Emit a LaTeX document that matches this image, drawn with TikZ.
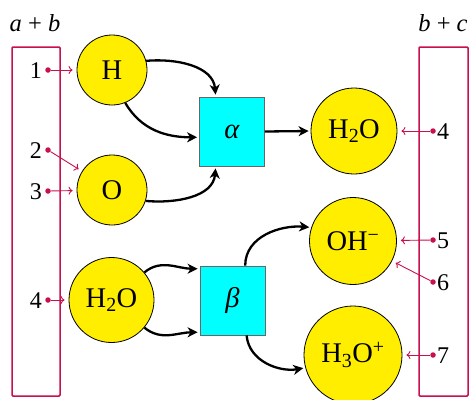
\documentclass[tikz,border=0pt]{standalone}
\usepackage{fontspec}
\setmainfont{Liberation Serif}
\usetikzlibrary{arrows.meta,calc}
\definecolor{crim}{RGB}{200,16,75}
\definecolor{ylw}{RGB}{255,238,0}
\definecolor{cyn}{RGB}{0,255,255}
\tikzset{
  species/.style={circle,draw=black,line width=0.8pt,fill=ylw,inner sep=0pt,font=\fontsize{28.5}{31}\selectfont},
  reaction/.style={rectangle,draw=black!60,line width=0.8pt,fill=cyn,inner sep=0pt,minimum width=65pt,minimum height=69pt,font=\fontsize{28.5}{31}\selectfont},
  flow/.style={line width=2.3pt,-{Stealth[length=10pt,width=10pt,inset=3pt]},shorten >=2pt},
  frame/.style={draw=crim,line width=1.5pt,rounded corners=1pt},
  pindot/.style={circle,fill=crim,inner sep=0pt,minimum size=5.5pt},
  pinarrow/.style={draw=crim,line width=0.9pt,-{To[length=4pt,width=8pt]},shorten >=4pt},
  numlbl/.style={inner sep=0pt,font=\fontsize{24}{27}\selectfont},
  toplbl/.style={inner sep=0pt,font=\fontsize{24.5}{28}\selectfont,anchor=base}
}
\begin{document}
\begin{tikzpicture}[x=1pt,y=-1pt]
\useasboundingbox (0,0) rectangle (470,399);
% frames
\draw[frame] (12,47) rectangle (60,396);
\draw[frame] (419,47) rectangle (468,396);
\node[toplbl] (lab) at (35,31) {\textit{a} + \textit{b}};
\node[toplbl] (lbc) at (443,31) {\textit{b} + \textit{c}};
% species
\node[species,minimum size=70pt] (H) at (112,70) {H};
\node[species,minimum size=70pt] (O) at (112,190) {O};
\node[species,minimum size=85pt] (W1) at (111.5,300) {H\textsubscript{2}O};
\node[species,minimum size=86pt] (W2) at (354,131) {H\textsubscript{2}O};
\node[species,minimum size=87pt] (OH) at (353,241) {OH\textsuperscript{−}};
\node[species,minimum size=98pt] (H3O) at (353,355) {H\textsubscript{3}O\textsuperscript{+}};
% reactions
\node[reaction] (alpha) at (232,131.5) {\textit{α}};
\node[reaction] (beta) at (232.5,300.5) {\textit{β}};
% flows
\draw[flow] (H.15) to[out=5,in=95] (alpha.115);
\draw[flow] (H.-68) to[out=-60,in=180] (alpha.190);
\draw[flow] (O.-18) to[out=-5,in=-95] (alpha.-115);
\draw[flow] (alpha.east) -- (W2.west);
\draw[flow] (W1.40) to[out=40,in=180] (beta.136);
\draw[flow] (W1.-40) to[out=-40,in=180] (beta.224);
\draw[flow] (beta.70) to[out=90,in=175] (OH.162);
\draw[flow] (beta.-68) to[out=-85,in=190] (H3O.195);
% left pins
\node[pindot] (p1) at (48,70) {};
\node[pindot] (p2) at (48,150) {};
\node[pindot] (p3) at (48,191) {};
\node[pindot] (p4) at (48,300) {};
\node[numlbl,anchor=east] at (42,71) {1};
\node[numlbl,anchor=east] at (42,151) {2};
\node[numlbl,anchor=east] at (42,192) {3};
\node[numlbl,anchor=east] at (42,301) {4};
\draw[pinarrow] (p1) -- (H);
\draw[pinarrow] (p2) -- (O);
\draw[pinarrow] (p3) -- (O);
\draw[pinarrow] (p4) -- (W1);
% right pins
\node[pindot] (q4) at (433,131) {};
\node[pindot] (q5) at (433,240) {};
\node[pindot] (q6) at (433,282) {};
\node[pindot] (q7) at (433,355) {};
\node[numlbl,anchor=west] at (437,132) {4};
\node[numlbl,anchor=west] at (437,241) {5};
\node[numlbl,anchor=west] at (437,283) {6};
\node[numlbl,anchor=west] at (437,356) {7};
\draw[pinarrow] (q4) -- (W2);
\draw[pinarrow] (q5) -- (OH);
\draw[pinarrow] (q6) -- (OH);
\draw[pinarrow] (q7) -- (H3O);
\end{tikzpicture}
\end{document}
